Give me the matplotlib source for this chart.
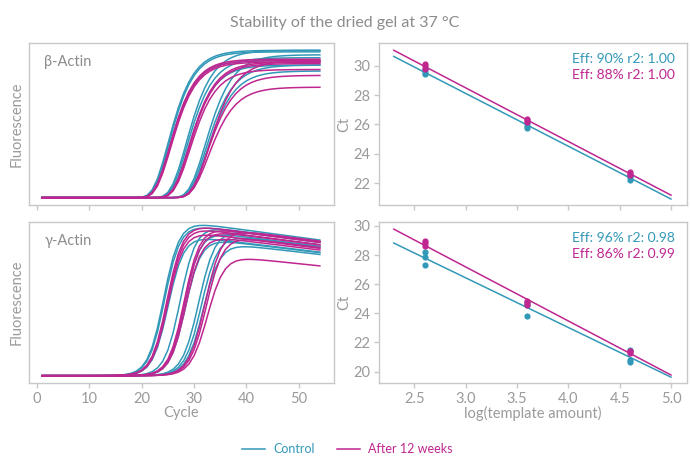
import numpy as np
import matplotlib
matplotlib.use("Agg")
import matplotlib.pyplot as plt

plt.rcParams['font.family'] = ['Lato', 'DejaVu Sans']

CYAN = "#3298b8"
MAGENTA = "#bf2690"
GREY = "#8c8c8c"
TICKGREY = "#9a9a9a"
SPINE = "#c8c8c8"

# log(template amount) of the three dilutions
log_amount = [2.6, 3.6, 4.6]

# Ct values (three replicates per dilution)
beta_ct_control = [[29.40, 29.55, 29.75], [25.75, 25.90, 26.10], [22.25, 22.40, 22.50]]
beta_ct_after = [[29.80, 29.95, 30.10], [26.20, 26.30, 26.40], [22.55, 22.65, 22.75]]
gamma_ct_control = [[27.35, 27.85, 28.20], [23.80, 24.60, 24.80], [20.65, 20.80, 21.50]]
gamma_ct_after = [[28.60, 28.80, 29.00], [24.55, 24.70, 24.85], [21.30, 21.40, 21.45]]

beta_eff_text = ["Eff: 90% r2: 1.00", "Eff: 88% r2: 1.00"]
gamma_eff_text = ["Eff: 96% r2: 0.98", "Eff: 86% r2: 0.99"]

# amplification curves: plateau height, steepness and plateau drift per curve
cycles = np.arange(1, 55)
beta_plateau_control = [[0.97, 0.90, 0.86], [1.00, 0.95, 0.90], [1.00, 0.99, 0.93]]
beta_plateau_after = [[0.83, 0.75, 0.93], [0.92, 0.91, 0.87], [0.94, 0.93, 0.92]]
beta_width = [3.0, 2.9, 2.8]
beta_shift = 3.8

gamma_plateau_control = [[1.02, 0.98, 0.92], [1.04, 1.00, 0.95], [1.07, 1.05, 0.97]]
gamma_plateau_after = [[1.02, 0.97, 0.83], [1.03, 1.01, 0.97], [1.05, 1.03, 1.00]]
gamma_width = [1.6, 1.5, 1.5]
gamma_shift = 3.6
gamma_drift = 0.0045


def beta_curves(ax, cts, plateaus, color):
    # Gompertz shape: sharp take-off, slow approach to the plateau
    for ct_group, pl_group, s in zip(cts, plateaus, beta_width):
        for ct, a in zip(ct_group, pl_group):
            m = ct + beta_shift - 0.367 * s
            y = a * np.exp(-np.exp(-(cycles - m) / s))
            ax.plot(cycles, y, color=color, lw=1.1)


def gamma_curves(ax, cts, plateaus, color):
    for ct_group, pl_group, s in zip(cts, plateaus, gamma_width):
        for ct, a in zip(ct_group, pl_group):
            m = ct + gamma_shift
            sig = 1.0 / (1.0 + np.exp(-(cycles - m) / s))
            y = a * sig * (1 - gamma_drift * np.clip(cycles - m, 0, None))
            ax.plot(cycles, y, color=color, lw=1.1)


def std_curve(ax, cts, color):
    xs = np.repeat(log_amount, [len(g) for g in cts])
    ys = np.concatenate(cts)
    ax.scatter(xs, ys, s=20, color=color, zorder=3, linewidths=0)
    k, b = np.polyfit(xs, ys, 1)
    xl = np.array([2.3, 5.0])
    ax.plot(xl, k * xl + b, color=color, lw=1.1)


def style(ax):
    for sp in ax.spines.values():
        sp.set_color(SPINE)
        sp.set_linewidth(1.0)
    ax.tick_params(colors=SPINE, labelcolor=TICKGREY, labelsize=10.5, length=3.5, width=1.0, pad=3)


W, H = 690, 458
fig = plt.figure(figsize=(W / 100, H / 100), dpi=100)


def box(x0, y0, x1, y1):
    return [x0 / W, 1 - y1 / H, (x1 - x0) / W, (y1 - y0) / H]


ax1 = fig.add_axes(box(29, 43, 334, 205))
ax2 = fig.add_axes(box(379, 43, 687, 205))
ax3 = fig.add_axes(box(29, 222, 334, 383))
ax4 = fig.add_axes(box(379, 222, 687, 383))

beta_curves(ax1, beta_ct_control, beta_plateau_control, CYAN)
beta_curves(ax1, beta_ct_after, beta_plateau_after, MAGENTA)
gamma_curves(ax3, gamma_ct_control, gamma_plateau_control, CYAN)
gamma_curves(ax3, gamma_ct_after, gamma_plateau_after, MAGENTA)

std_curve(ax2, beta_ct_control, CYAN)
std_curve(ax2, beta_ct_after, MAGENTA)
std_curve(ax4, gamma_ct_control, CYAN)
std_curve(ax4, gamma_ct_after, MAGENTA)

for ax, name in [(ax1, "β-Actin"), (ax3, "γ-Actin")]:
    style(ax)
    ax.set_xlim(-1.5, 56.7)
    ax.set_ylim(-0.05, 1.05)
    ax.set_xticks(range(0, 51, 10))
    ax.set_yticks([])
    ax.set_ylabel("Fluorescence", color=TICKGREY, fontsize=10.5, labelpad=4)
    ax.text(0.05, 0.86, name, transform=ax.transAxes, color=GREY, fontsize=10.5)
ax1.tick_params(labelbottom=False)
ax3.set_xlabel("Cycle", color=TICKGREY, fontsize=10.5, labelpad=0)

for ax, texts in [(ax2, beta_eff_text), (ax4, gamma_eff_text)]:
    style(ax)
    ax.set_xlim(2.156, 5.156)
    ax.set_xticks([2.5, 3.0, 3.5, 4.0, 4.5, 5.0])
    ax.set_ylabel("Ct", color=TICKGREY, fontsize=10.5, labelpad=1)
    ax.text(0.96, 0.9, texts[0], transform=ax.transAxes, color=CYAN, fontsize=10, ha="right", va="center")
    ax.text(0.96, 0.8, texts[1], transform=ax.transAxes, color=MAGENTA, fontsize=10, ha="right", va="center")
ax2.set_ylim(20.52, 31.54)
ax2.set_yticks([22, 24, 26, 28, 30])
ax2.tick_params(labelbottom=False)
ax4.set_ylim(19.22, 30.27)
ax4.set_yticks([20, 22, 24, 26, 28, 30])
ax4.set_xticklabels(["2.5", "3.0", "3.5", "4.0", "4.5", "5.0"])
ax4.set_xlabel("log(template amount)", color=TICKGREY, fontsize=10.5, labelpad=0)

fig.suptitle("Stability of the dried gel at 37 °C", color=GREY, fontsize=11.5, y=0.965)

handles = [plt.Line2D([], [], color=CYAN, lw=1.1), plt.Line2D([], [], color=MAGENTA, lw=1.1)]
leg = fig.legend(handles, ["Control", "After 12 weeks"], loc="center", bbox_to_anchor=(0.503, 1 - 449 / H),
                 ncol=2, frameon=False, fontsize=9, handlelength=1.85, columnspacing=1.75, handletextpad=0.65)
for t, c in zip(leg.get_texts(), [CYAN, MAGENTA]):
    t.set_color(c)

fig.savefig("out.png", dpi=100)
